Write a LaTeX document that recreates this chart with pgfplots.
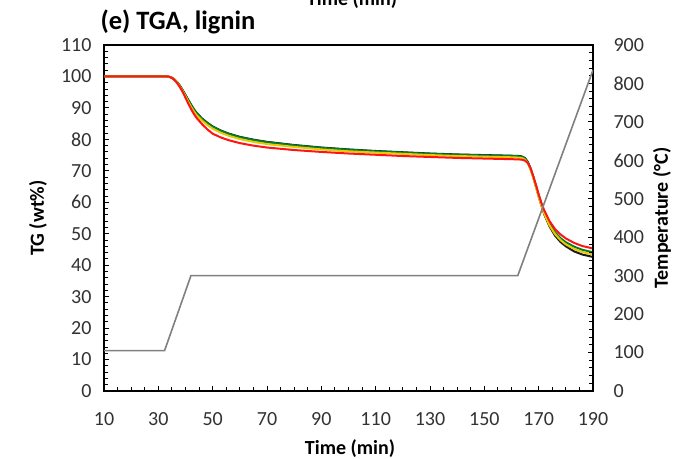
\documentclass[border=0pt]{standalone}
\usepackage{fontspec}
\setmainfont{Carlito}
\usepackage{pgfplots}
\usepackage{pgfplotstable}
\pgfplotsset{compat=1.18}
\definecolor{tgblack}{RGB}{25,25,25}
\definecolor{tggreen}{RGB}{0,125,45}
\definecolor{tgyellow}{RGB}{235,200,0}
\definecolor{tgred}{RGB}{255,20,20}
\definecolor{tempgray}{RGB}{128,128,128}
\definecolor{ticklab}{RGB}{50,50,50}

\pgfplotstableread{
t K G Y R
10 100 100 100 100
33 100 100 100 100
34 99.9 99.9 99.9 99.9
35 99.6 99.6 99.6 99.5
36 99.0 99.0 98.9 98.8
37 98.1 98.1 98.0 97.8
38 97.0 96.9 96.7 96.5
39 95.6 95.5 95.3 95.0
40 94.1 94.0 93.7 93.2
41 92.6 92.5 92.0 91.4
42 91.1 91.0 90.4 89.7
43 89.7 89.6 89.0 88.2
44 88.5 88.4 87.8 86.9
46 86.7 86.6 86.0 84.9
48 85.3 85.2 84.6 83.2
50 84.1 84.0 83.4 81.8
53 82.8 82.7 82.1 80.6
56 81.8 81.7 81.1 79.7
60 80.8 80.7 80.1 78.8
65 79.9 79.8 79.2 78.0
70 79.2 79.1 78.5 77.4
80 78.2 78.1 77.6 76.6
90 77.4 77.3 76.8 76.0
100 76.8 76.7 76.2 75.5
110 76.3 76.2 75.8 75.1
120 75.9 75.8 75.4 74.7
130 75.5 75.4 75.0 74.4
140 75.2 75.1 74.7 74.1
150 75.0 74.9 74.5 73.9
160 74.8 74.7 74.3 73.7
163 74.7 74.6 74.2 73.6
164 74.5 74.4 74.0 73.5
165 74.0 73.9 73.5 73.2
166 72.8 72.8 72.4 72.5
167 70.7 70.8 70.4 70.8
168 68.0 68.2 67.8 68.3
169 65.0 65.3 64.8 65.5
170 61.9 62.3 61.8 62.5
171 59.0 59.5 59.0 59.8
172 56.3 57.0 56.5 57.5
174 52.3 53.2 52.6 54.0
176 49.4 50.5 49.9 51.5
178 47.4 48.6 48.0 49.8
180 46.0 47.3 46.6 48.5
183 44.4 45.9 45.2 47.1
186 43.4 44.9 44.2 46.1
190 42.6 44.1 43.4 45.3
}\tgdata

\pgfplotstableread{
t T
10 105
32.3 105
42 300
162.3 300
190 835
}\tempdata

\begin{document}
\begin{tikzpicture}[x=1bp,y=1bp]
\clip (0,0) rectangle (674,459);
\fill[white] (0,0) rectangle (674,459);
\pgfplotsset{
  every axis/.append style={
    at={(104bp,68bp)}, anchor=south west,
    scale only axis, width=489bp, height=346bp,
    xmin=10, xmax=190,
    tick align=inside,
    major tick length=5bp, minor tick length=4bp,
    tick style={black, line width=0.9bp},
    axis line style={black, line width=1.2bp},
    /pgf/number format/assume math mode=true,
    ticklabel style={font=\fontsize{20bp}{23bp}\selectfont, text=ticklab},
  }
}
\begin{axis}[
  ymin=0, ymax=110,
  xtick={10,30,...,190}, minor x tick num=3,
  ytick={0,10,...,110}, minor y tick num=4,
  xtick pos=bottom, ytick pos=left,
  xticklabel style={yshift=-18bp},
  yticklabel style={xshift=-9bp},
]
\addplot[tgblack, line width=2bp] table[x=t, y=K] {\tgdata};
\addplot[tggreen, line width=2bp] table[x=t, y=G] {\tgdata};
\addplot[tgyellow, line width=2bp] table[x=t, y=Y] {\tgdata};
\addplot[tgred, line width=2bp] table[x=t, y=R] {\tgdata};
\end{axis}
\begin{axis}[
  axis y line*=right, axis x line=none,
  ymin=0, ymax=900,
  ytick={0,100,...,900}, minor y tick num=4,
  yticklabel style={xshift=17bp},
]
\addplot[tempgray, line width=1.6bp] table[x=t, y=T] {\tempdata};
\end{axis}
\node[anchor=base west, font=\bfseries\fontsize{26.5bp}{31bp}\selectfont] at (97,429) {(e) TGA, lignin};
\node[anchor=center, font=\bfseries\fontsize{20bp}{24bp}\selectfont] at (350,10) {Time (min)};
\node[anchor=base, font=\bfseries\fontsize{20bp}{24bp}\selectfont] at (352,453) {Time (min)};
\node[rotate=90, anchor=center, font=\bfseries\fontsize{20bp}{24bp}\selectfont] at (38,241) {TG (wt\%)};
\node[rotate=90, anchor=center, font=\bfseries\fontsize{20bp}{24bp}\selectfont] at (662,241) {Temperature (°C)};
\end{tikzpicture}
\end{document}
